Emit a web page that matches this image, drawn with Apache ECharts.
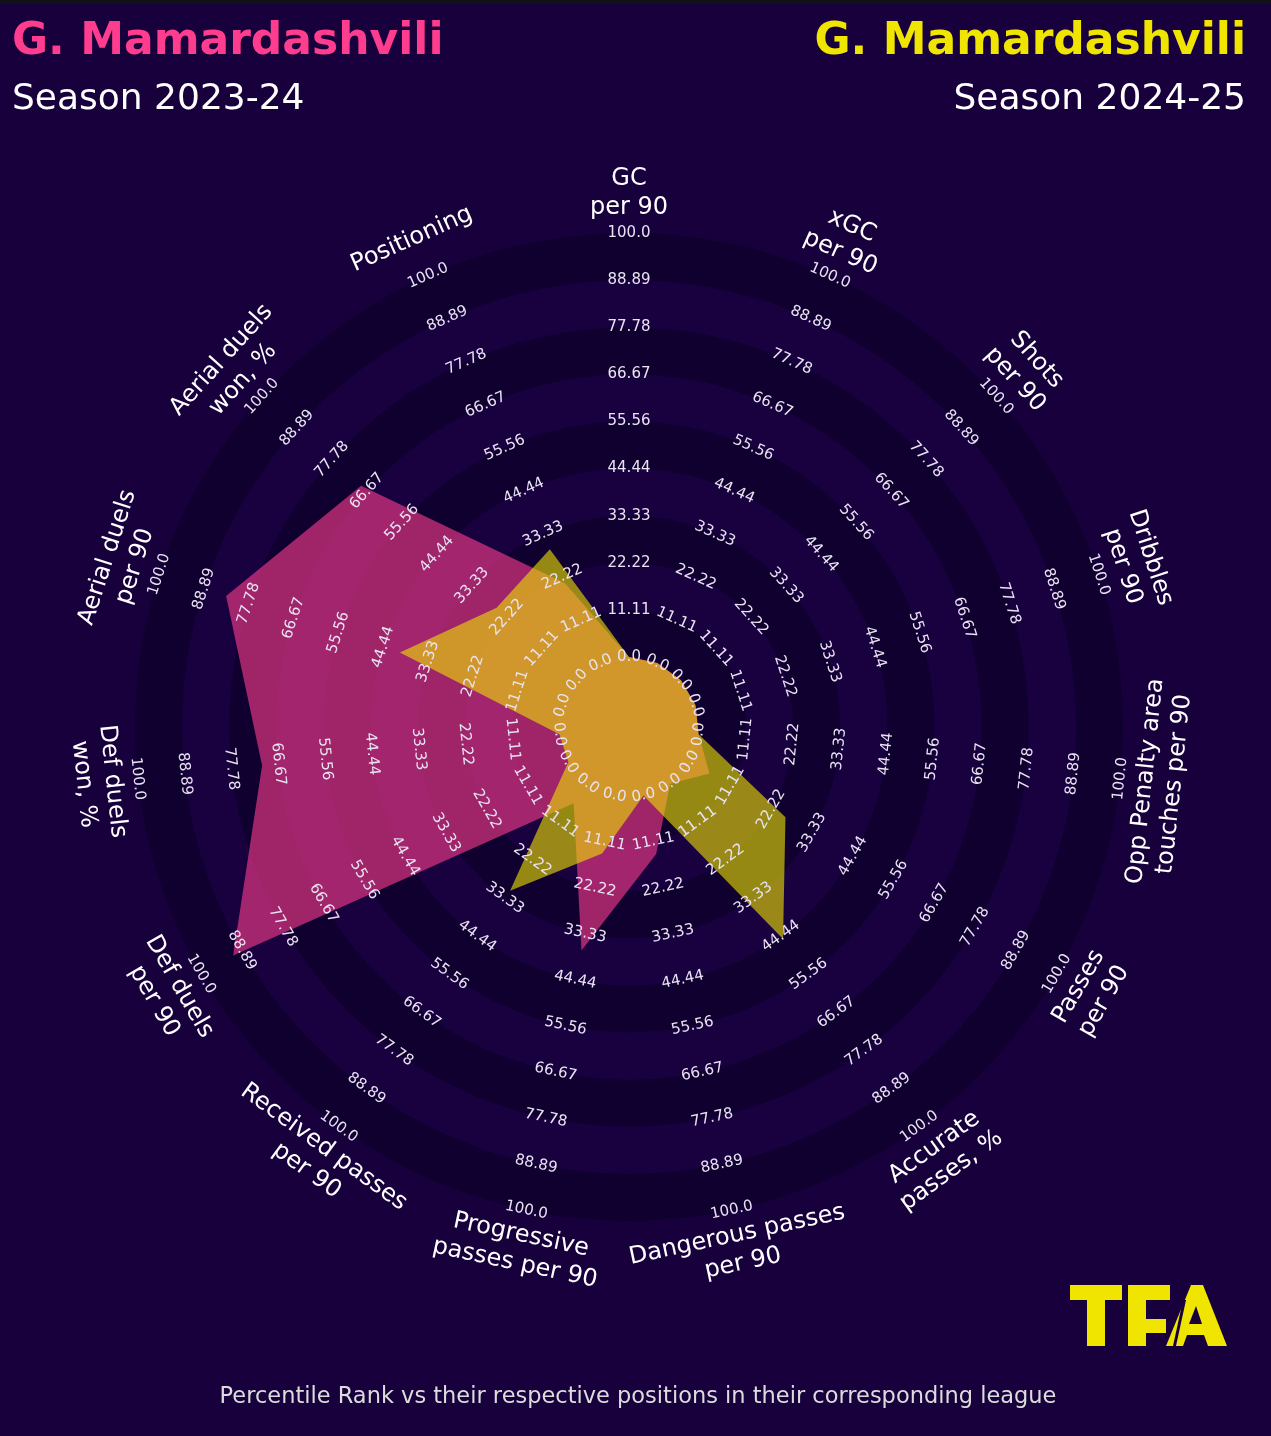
<!DOCTYPE html>
<html>
<head>
<meta charset="utf-8">
<title>G. Mamardashvili radar</title>
<script src="https://cdn.jsdelivr.net/npm/echarts@6/dist/echarts.min.js"></script>
<style>
  html, body { margin: 0; padding: 0; background: #17003c; }
  #chart { width: 1271px; height: 1436px; }
</style>
</head>
<body>
<div id="chart"></div>
<script>
// metrics, clockwise from the top
const params = [
  'GC\nper 90', 'xGC\nper 90', 'Shots\nper 90', 'Dribbles\nper 90',
  'Opp Penalty area\ntouches per 90', 'Passes\nper 90', 'Accurate\npasses, %',
  'Dangerous passes\nper 90', 'Progressive\npasses per 90', 'Received passes\nper 90',
  'Def duels\nper 90', 'Def duels\nwon, %', 'Aerial duels\nper 90',
  'Aerial duels\nwon, %', 'Positioning'
]
// percentile ranks
const season2324 = [0, 0, 0, 0, 0, 5.4, 0, 14.2, 37.4, 5.7, 91.3, 70.5, 83.4, 68.5, 20.6]
const season2425 = [0, 0, 0, 0, 0, 26.1, 45.3, 0, 14, 31.2, 0, 0, 40.3, 25.5, 29.4]
const ringValues = [0, 100 / 9, 200 / 9, 300 / 9, 400 / 9, 500 / 9, 600 / 9, 700 / 9, 800 / 9, 100]
const ringLabels = ['0.0', '11.11', '22.22', '33.33', '44.44', '55.56', '66.67', '77.78', '88.89', '100.0']

const PINK = '#ff3d8e'
const YELLOW = '#f0e500'
const BG = '#17003c'
const CENTER = [629, 727]
const INNER = 70
const OUTER = 494
const LABEL_R = 109.4 // param names sit a bit outside the 100 ring

const step = 360 / params.length
const angles = params.map((_, i) => i * step)

// echarts radar runs counter-clockwise, so feed it in reverse after the first axis
const radarOrder = [0].concat(params.map((_, i) => params.length - 1 - i).slice(0, params.length - 1))
const radarMin = -INNER / (OUTER - INNER) * 100

// tangential text, flipped on the lower half so it stays readable
const rotationFor = (deg) => {
    let r = -deg
    if (deg > 90 && deg < 270) r += 180
    return r * Math.PI / 180
}

const tickData = []
const tickText = []
angles.forEach((a) => {
    ringValues.forEach((v, k) => {
        tickData.push([v, a])
        tickText.push(ringLabels[k])
    })
})

const chart = echarts.init(document.getElementById('chart'))

chart.setOption({
    backgroundColor: BG,
    animation: false,
    polar: { center: CENTER, radius: [INNER, OUTER] },
    angleAxis: {
        type: 'value', min: 0, max: 360, startAngle: 90, clockwise: true,
        axisLine: { show: false }, axisTick: { show: false },
        axisLabel: { show: false }, splitLine: { show: false }
    },
    radiusAxis: {
        type: 'value', min: 0, max: 100, interval: 100 / 9,
        axisLine: { show: false }, axisTick: { show: false },
        axisLabel: { show: false }, splitLine: { show: false },
        splitArea: { show: true, areaStyle: { color: ['#100030', '#19003f'] } }
    },
    radar: {
        center: CENTER,
        radius: OUTER,
        startAngle: 90,
        shape: 'polygon',
        indicator: radarOrder.map(() => ({ name: '', min: radarMin, max: 100 })),
        axisName: { show: false },
        axisLine: { show: false },
        splitLine: { show: false },
        splitArea: { show: false },
        axisTick: { show: false },
        axisLabel: { show: false }
    },
    series: [
        {
            type: 'radar',
            z: 3,
            symbol: 'none',
            lineStyle: { width: 0 },
            data: [
                {
                    value: radarOrder.map((i) => season2324[i]),
                    areaStyle: { color: PINK, opacity: 0.6 }
                },
                {
                    value: radarOrder.map((i) => season2425[i]),
                    areaStyle: { color: YELLOW, opacity: 0.6 }
                }
            ]
        },
        {
            type: 'custom',
            coordinateSystem: 'polar',
            z: 5,
            clip: false,
            silent: true,
            data: tickData,
            renderItem: (p, api) => {
                const pt = api.coord([api.value(0), api.value(1)])
                return {
                    type: 'text',
                    x: pt[0], y: pt[1],
                    rotation: rotationFor(api.value(1)),
                    style: {
                        text: tickText[p.dataIndex],
                        fill: '#e8e3f2',
                        fontSize: 15,
                        fontFamily: 'DejaVu Sans',
                        align: 'center',
                        verticalAlign: 'middle'
                    }
                }
            }
        },
        {
            type: 'custom',
            coordinateSystem: 'polar',
            z: 5,
            clip: false,
            silent: true,
            data: angles.map((a) => [LABEL_R, a]),
            renderItem: (p, api) => {
                const pt = api.coord([api.value(0), api.value(1)])
                return {
                    type: 'text',
                    x: pt[0], y: pt[1],
                    rotation: rotationFor(api.value(1)),
                    style: {
                        text: params[p.dataIndex],
                        fill: '#ffffff',
                        fontSize: 24,
                        lineHeight: 29,
                        fontFamily: 'DejaVu Sans',
                        align: 'center',
                        verticalAlign: 'middle'
                    }
                }
            }
        }
    ],
    graphic: [
        { type: 'rect', shape: { x: 0, y: 0, width: 1271, height: 4 }, style: { fill: '#101217' } },
        {
            type: 'text', x: 12, y: 43,
            style: { text: 'G. Mamardashvili', fill: PINK, fontSize: 44, fontWeight: 'bold',
                fontFamily: 'DejaVu Sans', align: 'left', verticalAlign: 'middle' }
        },
        {
            type: 'text', x: 12, y: 100,
            style: { text: 'Season 2023-24', fill: '#ffffff', fontSize: 36,
                fontFamily: 'DejaVu Sans', align: 'left', verticalAlign: 'middle' }
        },
        {
            type: 'text', x: 1246, y: 43,
            style: { text: 'G. Mamardashvili', fill: YELLOW, fontSize: 44, fontWeight: 'bold',
                fontFamily: 'DejaVu Sans', align: 'right', verticalAlign: 'middle' }
        },
        {
            type: 'text', x: 1246, y: 100,
            style: { text: 'Season 2024-25', fill: '#ffffff', fontSize: 36,
                fontFamily: 'DejaVu Sans', align: 'right', verticalAlign: 'middle' }
        },
        {
            type: 'text', x: 638, y: 1397,
            style: { text: 'Percentile Rank vs their respective positions in their corresponding league',
                fill: '#dcdcdc', fontSize: 22.5, fontFamily: 'DejaVu Sans',
                align: 'center', verticalAlign: 'middle' }
        },
        // TFA logo
        {
            type: 'group',
            children: [
                { type: 'rect', shape: { x: 1070, y: 1285, width: 52, height: 15 }, style: { fill: YELLOW } },
                { type: 'rect', shape: { x: 1087, y: 1300, width: 18, height: 46 }, style: { fill: YELLOW } },
                { type: 'rect', shape: { x: 1128, y: 1285, width: 18, height: 61 }, style: { fill: YELLOW } },
                { type: 'rect', shape: { x: 1146, y: 1285, width: 24, height: 15 }, style: { fill: YELLOW } },
                { type: 'rect', shape: { x: 1146, y: 1319, width: 20, height: 14 }, style: { fill: YELLOW } },
                {
                    type: 'polygon',
                    shape: { points: [[1166, 1346], [1191, 1285], [1203, 1285], [1227, 1346], [1208, 1346],
                        [1204, 1335], [1187, 1335], [1183, 1346]] },
                    style: { fill: YELLOW }
                },
                {
                    type: 'polygon',
                    shape: { points: [[1189, 1324], [1202, 1324], [1196, 1306]] },
                    style: { fill: BG }
                },
                {
                    type: 'polygon',
                    shape: { points: [[1183, 1300], [1186, 1300], [1176, 1346], [1173, 1346]] },
                    style: { fill: BG }
                }
            ]
        }
    ]
})
</script>
</body>
</html>
